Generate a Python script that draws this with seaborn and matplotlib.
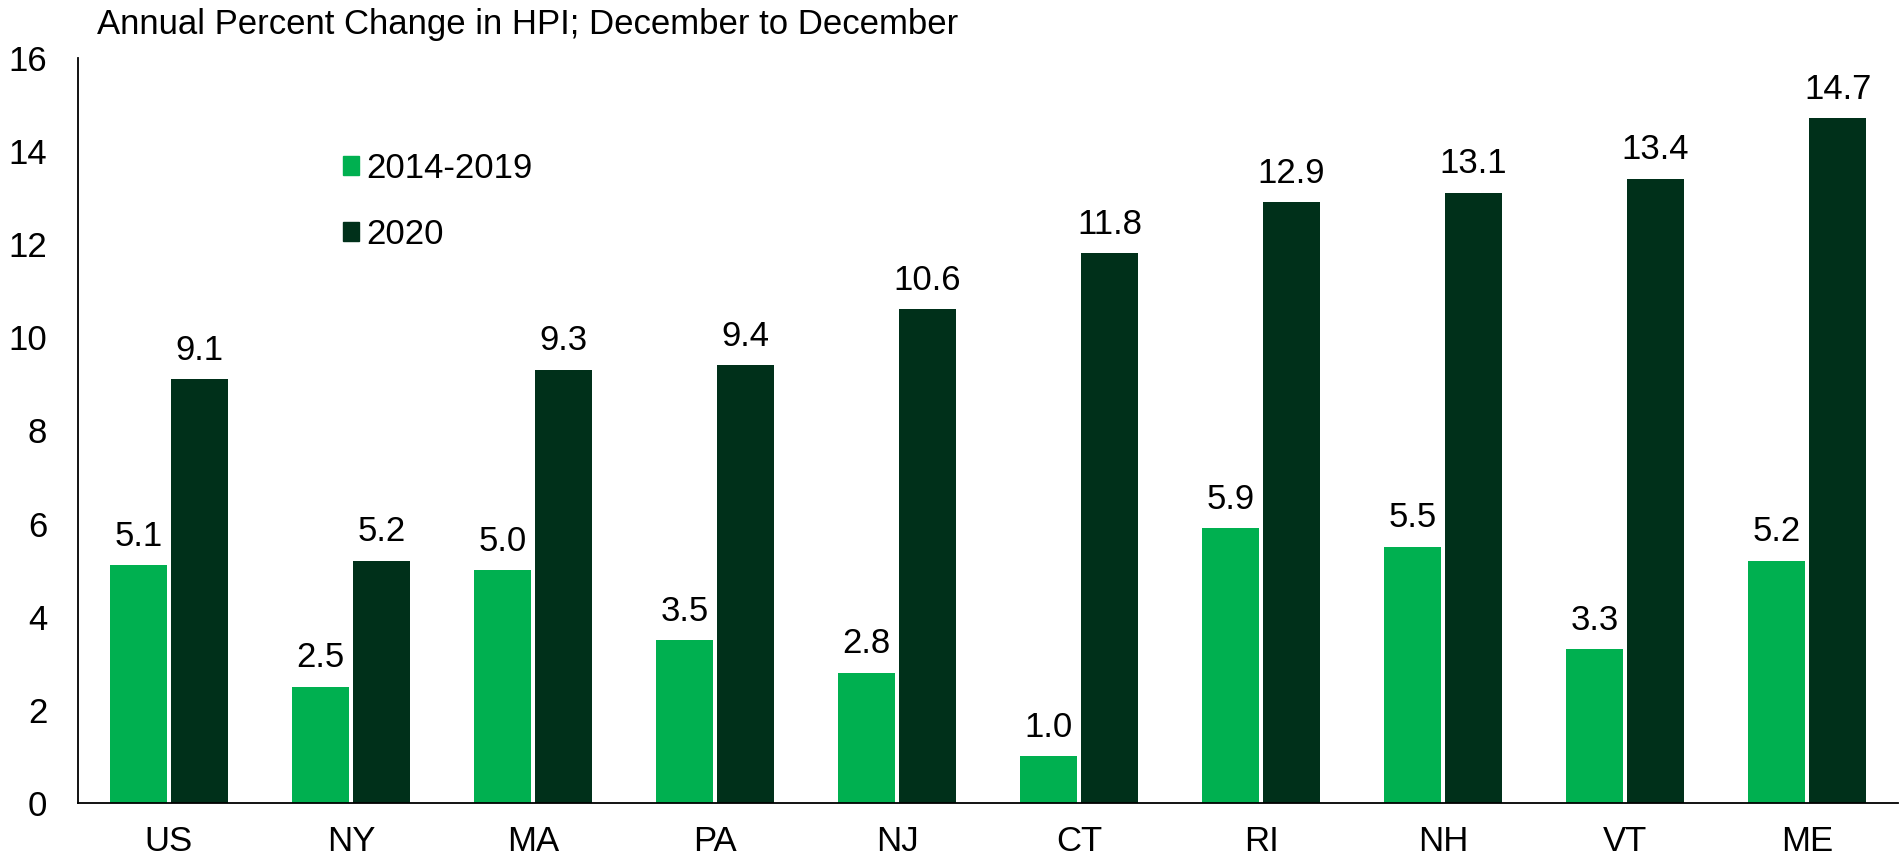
import pandas as pd
import numpy as np
import matplotlib
matplotlib.use('Agg')
import matplotlib.pyplot as plt
import seaborn as sns
from matplotlib.patches import Patch

# Data
states = ['US', 'NY', 'MA', 'PA', 'NJ', 'CT', 'RI', 'NH', 'VT', 'ME']
avg_2014_2019 = [5.1, 2.5, 5.0, 3.5, 2.8, 1.0, 5.9, 5.5, 3.3, 5.2]
chg_2020 = [9.1, 5.2, 9.3, 9.4, 10.6, 11.8, 12.9, 13.1, 13.4, 14.7]
series = ['2014-2019', '2020']
colors = ['#00B050', '#00301A']

df = pd.DataFrame({
    'state': states * 2,
    'value': avg_2014_2019 + chg_2020,
    'period': [series[0]] * len(states) + [series[1]] * len(states),
})

sns.set_style('white')
plt.rcParams['font.family'] = ['Liberation Sans', 'DejaVu Sans']
plt.rcParams['text.color'] = 'black'
plt.rcParams['xtick.color'] = 'black'
plt.rcParams['ytick.color'] = 'black'
FS = 25

fig = plt.figure(figsize=(19, 8.64), dpi=100)
ax = fig.add_axes([0.041, 0.0706, 0.958, 0.8624])

sns.barplot(data=df, x='state', y='value', hue='period', palette=colors,
            width=0.67, gap=0.065, linewidth=0, saturation=1, ax=ax, legend=False)

for cont in ax.containers:
    ax.bar_label(cont, fmt='%.1f', padding=9, fontsize=FS, color='black')

ax.set_xlim(-0.5, 9.5)
ax.set_ylim(0, 16)
ax.set_yticks(range(0, 17, 2))
ax.set_xlabel('')
ax.set_ylabel('')
ax.tick_params(axis='both', length=0, labelsize=FS, labelcolor='black')
ax.tick_params(axis='x', pad=16)
ax.tick_params(axis='y', pad=22)
for s in ['top', 'right']:
    ax.spines[s].set_visible(False)
for s in ['left', 'bottom']:
    ax.spines[s].set_color('black')
    ax.spines[s].set_linewidth(1.3)

fig.text(0.051, 0.972, 'Annual Percent Change in HPI; December to December',
         fontsize=FS, ha='left', va='center', color='black')

handles = [Patch(color=c, label=l) for c, l in zip(colors, series)]
ax.legend(handles=handles, loc='upper left', bbox_to_anchor=(0.164, 0.86),
          bbox_transform=fig.transFigure, frameon=False, fontsize=FS,
          handlelength=0.46, handleheight=0.46, handletextpad=0.2,
          labelspacing=0.95, borderpad=0.4, labelcolor='black')

fig.savefig('out.png', dpi=100)
